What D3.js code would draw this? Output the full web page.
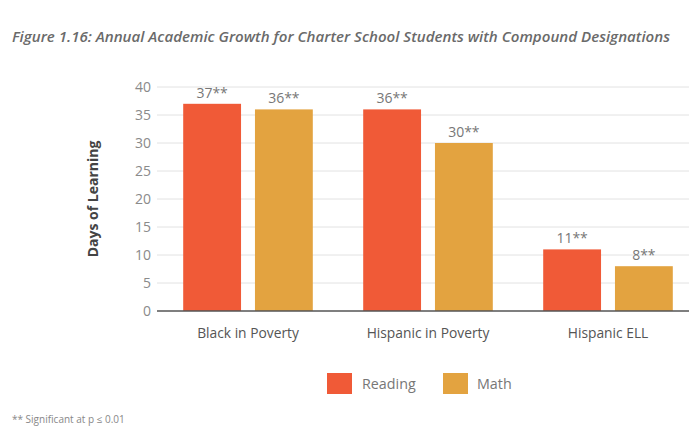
<!DOCTYPE html>
<html><head><meta charset="utf-8">
<script src="https://cdn.jsdelivr.net/npm/d3@7"></script>
<style>body{margin:0;background:#fff;} svg{display:block;}</style>
</head><body>
<svg id="c" width="689" height="428"></svg>
<script>
const categories = ["Black in Poverty", "Hispanic in Poverty", "Hispanic ELL"];
const seriesNames = ["Reading", "Math"];
const reading = [37, 36, 11];
const math = [36, 30, 8];
const valueLabels = [["37**","36**"],["36**","30**"],["11**","8**"]];
const yTicks = [0,5,10,15,20,25,30,35,40];
const colors = {Reading:"#F05A37", Math:"#E3A340"};

const svg = d3.select("#c");
const font = "'Open Sans', sans-serif";
const y = d3.scaleLinear().domain([0,40]).range([311,87]);
const x0 = d3.scaleBand().domain(categories).range([158,698]).paddingInner(0.28).paddingOuter(0.14);
const x1 = d3.scaleBand().domain(seriesNames).range([0,x0.bandwidth()]).paddingInner(0.194);

// title
svg.append("text").attr("x",12).attr("y",42).attr("font-family",font).attr("font-size",15)
  .attr("font-style","italic").attr("font-weight",600).attr("fill","#6a6a6a")
  .attr("textLength",658).attr("lengthAdjust","spacingAndGlyphs")
  .text("Figure 1.16: Annual Academic Growth for Charter School Students with Compound Designations");

// grid
svg.append("g").selectAll("line").data(yTicks.filter(d=>d>0)).join("line")
  .attr("x1",157).attr("x2",689).attr("y1",d=>y(d)).attr("y2",d=>y(d))
  .attr("stroke","#e2e2e2").attr("stroke-width",1);

// y axis labels
const yAxis = d3.axisLeft(y).tickValues(yTicks).tickSize(0).tickPadding(0);
const ga = svg.append("g").attr("transform","translate(151,0)").call(yAxis);
ga.select(".domain").remove();
ga.selectAll("text").attr("font-family",font).attr("font-size",14).attr("fill","#8a8a8a");

svg.append("text").attr("transform","translate(98,199) rotate(-90)").attr("text-anchor","middle")
  .attr("font-family",font).attr("font-size",14).attr("font-weight",700).attr("fill","#444")
  .text("Days of Learning");

// bars
const data = categories.map((c,i)=>({c, vals:[{s:"Reading",v:reading[i],l:valueLabels[i][0]},{s:"Math",v:math[i],l:valueLabels[i][1]}]}));
const g = svg.append("g").selectAll("g").data(data).join("g").attr("transform",d=>`translate(${x0(d.c)},0)`);
g.selectAll("rect").data(d=>d.vals).join("rect")
  .attr("x",d=>x1(d.s)).attr("width",x1.bandwidth())
  .attr("y",d=>y(d.v)).attr("height",d=>y(0)-y(d.v)).attr("fill",d=>colors[d.s]);
g.selectAll("text.v").data(d=>d.vals).join("text").attr("class","v")
  .attr("x",d=>x1(d.s)+x1.bandwidth()/2).attr("y",d=>y(d.v)-6).attr("text-anchor","middle")
  .attr("font-family",font).attr("font-size",14).attr("fill","#777").text(d=>d.l);

// baseline
svg.append("line").attr("x1",157).attr("x2",689).attr("y1",y(0)).attr("y2",y(0)).attr("stroke","#555").attr("stroke-width",1.5);

// x axis labels
const xAxis = d3.axisBottom(x0).tickSize(0).tickPadding(0);
const gx = svg.append("g").attr("transform",`translate(0,${y(0)+17})`).call(xAxis);
gx.select(".domain").remove();
gx.selectAll("text").attr("font-family",font).attr("font-size",13.8).attr("fill","#555");

// legend
const leg = [{s:"Reading",x:327,tx:362},{s:"Math",x:443,tx:477}];
const lg = svg.append("g").selectAll("g").data(leg).join("g");
lg.append("rect").attr("x",d=>d.x).attr("y",373).attr("width",25).attr("height",21).attr("fill",d=>colors[d.s]);
lg.append("text").attr("x",d=>d.tx).attr("y",389).attr("font-family",font).attr("font-size",14.3).attr("fill","#777").text(d=>d.s);

// footnote
svg.append("text").attr("x",12).attr("y",423).attr("font-family",font).attr("font-size",10).attr("fill","#888")
  .text("** Significant at p \u2264 0.01");
</script>
</body></html>
